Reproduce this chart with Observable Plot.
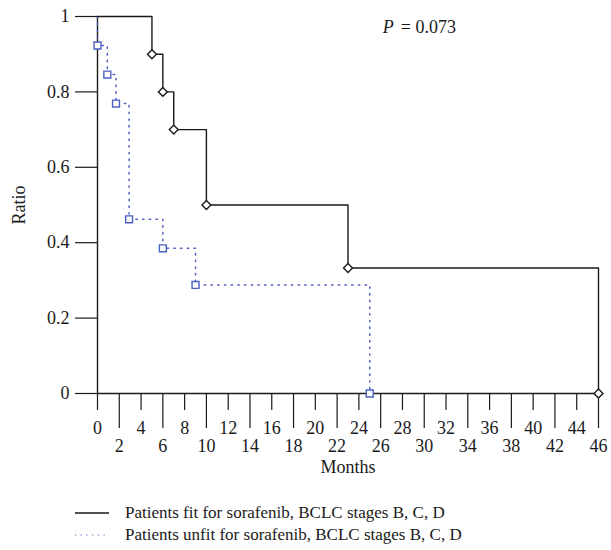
<!DOCTYPE html>
<html>
<head>
<meta charset="utf-8">
<script src="https://cdn.jsdelivr.net/npm/d3@7"></script>
<script src="https://cdn.jsdelivr.net/npm/@observablehq/plot@0.6"></script>
<style>
  html, body { margin: 0; padding: 0; background: #fff; }
  body { width: 611px; height: 550px; overflow: hidden; font-family: "Liberation Serif", "DejaVu Serif", serif; color: #1a1a1a; }
  #legend { margin-left: 75px; margin-top: 17px; font-size: 17px; line-height: 22px; }
  .row { display: flex; align-items: center; }
  .row svg { width: 34px; height: 10px; margin-right: 16px; }
</style>
</head>
<body>
<div id="chart"></div>
<div id="legend"></div>
<script>
// Series: fit for sorafenib (black solid, diamonds)
const fitMonths = [0, 5, 6, 7, 10, 23, 46];
const fitRatio  = [1, 0.9, 0.8, 0.7, 0.5, 0.333, 0];
// Series: unfit for sorafenib (blue dotted, squares)
const unfitMonths = [0, 0, 0.9, 1.7, 2.9, 6, 9, 25];
const unfitRatio  = [1, 0.923, 0.846, 0.769, 0.462, 0.385, 0.288, 0];

const seriesNames = [
  "Patients fit for sorafenib, BCLC stages B, C, D",
  "Patients unfit for sorafenib, BCLC stages B, C, D"
];

const yTicks = [0, 0.2, 0.4, 0.6, 0.8, 1];
const xTicksUpper = [0, 4, 8, 12, 16, 20, 24, 28, 32, 36, 40, 44];
const xTicksLower = [2, 6, 10, 14, 18, 22, 26, 30, 34, 38, 42, 46];

const pLabelAt = [{month: 27.3, ratio: 0.971}];

const fit = fitMonths.map((m, i) => ({month: m, ratio: fitRatio[i]}));
const unfit = unfitMonths.map((m, i) => ({month: m, ratio: unfitRatio[i]}));

const ink = "#1a1a1a";
const blue = "#4b5fc2";

const chart = Plot.plot({
  width: 611,
  height: 485,
  marginLeft: 97,
  marginRight: 13,
  marginTop: 16,
  marginBottom: 92,
  style: {fontFamily: "'Liberation Serif', serif", color: ink, background: "#fff"},
  x: {domain: [0, 46]},
  y: {domain: [0, 1]},
  marks: [
    Plot.axisY(yTicks, {tickSize: 22, tickPadding: 6, fontSize: 18, strokeWidth: 1.2,
      tickFormat: d => String(+d.toFixed(1)),
      label: "Ratio", labelAnchor: "center", labelArrow: "none", labelOffset: 85}),
    Plot.axisX(xTicksUpper, {tickSize: 17, tickPadding: 11, fontSize: 18, strokeWidth: 1.2, label: null}),
    Plot.axisX(xTicksLower, {tickSize: 35, tickPadding: 11, fontSize: 18, strokeWidth: 1.2,
      label: "Months", labelAnchor: "center", labelArrow: "none", labelOffset: 79}),
    Plot.ruleX([0], {y1: 0, y2: 1, stroke: ink, strokeWidth: 1.4}),
    Plot.ruleY([0], {x1: 0, x2: 46, stroke: ink, strokeWidth: 1.4}),
    Plot.line(unfit, {x: "month", y: "ratio", curve: "step-after", stroke: blue, strokeWidth: 1.5,
      strokeDasharray: "1.4 5.3"}),
    Plot.line(fit, {x: "month", y: "ratio", curve: "step-after", stroke: ink, strokeWidth: 1.4}),
    Plot.dot(unfit.slice(1), {x: "month", y: "ratio", symbol: "square2", r: 4.4, stroke: blue, fill: "#fff", strokeWidth: 1.4}),
    Plot.dot(fit.slice(1), {x: "month", y: "ratio", symbol: "diamond2", r: 4, stroke: ink, fill: "#fff", strokeWidth: 1.4}),
    Plot.text(pLabelAt, {x: "month", y: "ratio", text: () => "P", fontStyle: "italic", fontSize: 18, textAnchor: "end", dx: -1, fill: ink}),
    Plot.text(pLabelAt, {x: "month", y: "ratio", text: () => "= 0.073", fontSize: 18, textAnchor: "start", dx: 6, fill: ink})
  ]
});
document.getElementById("chart").appendChild(chart);

const legend = document.getElementById("legend");
const styles = [{stroke: ink, dash: null, w: 1.4}, {stroke: blue, dash: "1.2 4.5", w: 1.2}];
seriesNames.forEach((name, i) => {
  const row = document.createElement("div");
  row.className = "row";
  const s = styles[i];
  row.innerHTML = `<svg viewBox="0 0 34 10"><line x1="0" x2="34" y1="5" y2="5" stroke="${s.stroke}" stroke-width="${s.w}" ${s.dash ? `stroke-dasharray="${s.dash}"` : ""}/></svg><span>${name}</span>`;
  legend.appendChild(row);
});
</script>
</body>
</html>
